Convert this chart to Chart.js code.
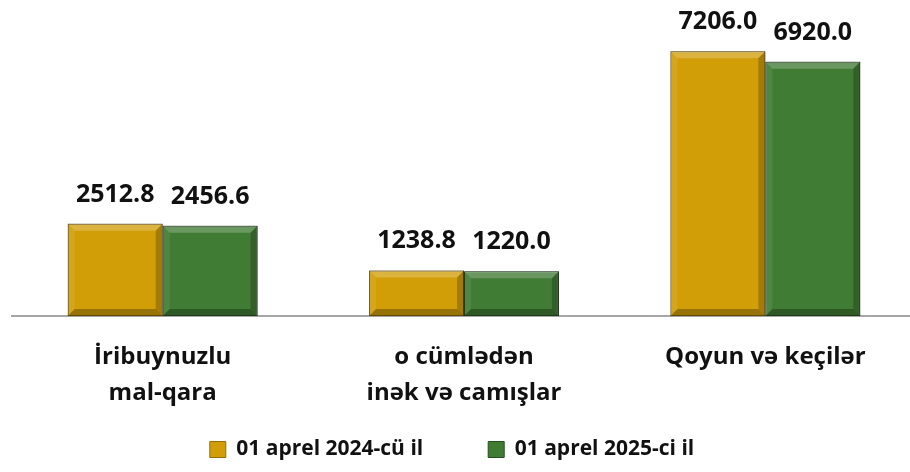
<!DOCTYPE html>
<html>
<head>
<meta charset="utf-8">
<script src="https://cdn.jsdelivr.net/npm/chart.js@4.4.0/dist/chart.umd.min.js"></script>
<style>
  html,body{margin:0;padding:0;background:#fff;overflow:hidden;}
  #wrap{width:916px;height:472px;position:relative;}
</style>
</head>
<body>
<div id="wrap"><canvas id="c"></canvas></div>
<script>
// chart data
const categories = [['İribuynuzlu','mal-qara'], ['o cümlədən','inək və camışlar'], ['Qoyun və keçilər']];
const series2024 = [2512.8, 1238.8, 7206.0];
const series2025 = [2456.6, 1220.0, 6920.0];
const seriesNames = ['01 aprel 2024-cü il', '01 aprel 2025-ci il'];

const gold = 'rgb(210,158,8)';
const green = 'rgb(64,124,52)';

// bevel look on each bar
const bevelPlugin = {
  id:'bevel',
  afterDatasetsDraw(chart){
    const ctx = chart.ctx;
    chart.data.datasets.forEach((ds,di)=>{
      chart.getDatasetMeta(di).data.forEach(bar=>{
        const p = bar.getProps(['x','y','base','width'], true);
        const l = p.x - p.width/2, r = p.x + p.width/2, t = p.y, b = p.base;
        const k = 7;
        const quad = (pts, fill)=>{
          ctx.beginPath();
          ctx.moveTo(pts[0][0],pts[0][1]);
          pts.slice(1).forEach(q=>ctx.lineTo(q[0],q[1]));
          ctx.closePath();
          ctx.fillStyle = fill;
          ctx.fill();
        };
        ctx.save();
        quad([[l,t],[r,t],[r-k,t+k],[l+k,t+k]], 'rgba(255,255,255,0.22)');
        quad([[l,t],[l+k,t+k],[l+k,b-k],[l,b]], 'rgba(255,255,255,0.08)');
        quad([[r,t],[r,b],[r-k,b-k],[r-k,t+k]], 'rgba(0,0,0,0.22)');
        quad([[l,b],[l+k,b-k],[r-k,b-k],[r,b]], 'rgba(0,0,0,0.28)');
        ctx.strokeStyle = 'rgba(0,0,0,0.35)';
        ctx.lineWidth = 1;
        ctx.strokeRect(l+0.5, t+0.5, p.width-1, b-t-1);
        ctx.restore();
      });
    });
  }
};

// value labels above bars
const valueLabels = {
  id:'valueLabels',
  afterDatasetsDraw(chart){
    const ctx = chart.ctx;
    ctx.save();
    ctx.font = 'bold 25px "Open Sans"';
    ctx.fillStyle = '#111';
    ctx.textAlign = 'center';
    ctx.textBaseline = 'alphabetic';
    chart.data.datasets.forEach((ds,di)=>{
      chart.getDatasetMeta(di).data.forEach((bar,i)=>{
        ctx.fillText(ds.data[i].toFixed(1), bar.x, bar.y - 22);
      });
    });
    ctx.restore();
  }
};

// nudge the legend a bit to the left
const legendShift = {
  id:'legendShift',
  afterLayout(chart){
    if(chart.legend){ chart.legend.left -= 12; chart.legend.right -= 12; }
  }
};

new Chart(document.getElementById('c'),{
  type:'bar',
  data:{
    labels:categories,
    datasets:[
      {label:seriesNames[0], data:series2024, backgroundColor:gold, borderColor:'rgb(150,110,5)', borderWidth:1},
      {label:seriesNames[1], data:series2025, backgroundColor:green, borderColor:'rgb(35,80,28)', borderWidth:1}
    ]
  },
  options:{
    responsive:true,
    maintainAspectRatio:false,
    animation:false,
    layout:{padding:{left:12,right:0,top:22,bottom:2}},
    datasets:{bar:{categoryPercentage:0.63,barPercentage:1}},
    scales:{
      x:{
        grid:{display:false,drawTicks:false},
        border:{display:true,color:'#a6a6a6',width:2},
        ticks:{color:'#111',padding:23,font:{family:'"Open Sans"',size:24,weight:'bold',lineHeight:1.5},maxRotation:0},
        afterFit(scale){
          // labels overlap the legend's empty top padding, so don't clip them
          scale.height = 58;
          scale._computeLabelArea = () => undefined;
        }
      },
      y:{display:false,min:0,max:8000}
    },
    plugins:{
      legend:{
        position:'bottom',
        labels:{color:'#111',boxWidth:16,boxHeight:16,padding:65,font:{family:'"Open Sans"',size:21,weight:'bold'}}
      },
      tooltip:{enabled:false}
    }
  },
  plugins:[bevelPlugin, valueLabels, legendShift]
});
</script>
</body>
</html>
